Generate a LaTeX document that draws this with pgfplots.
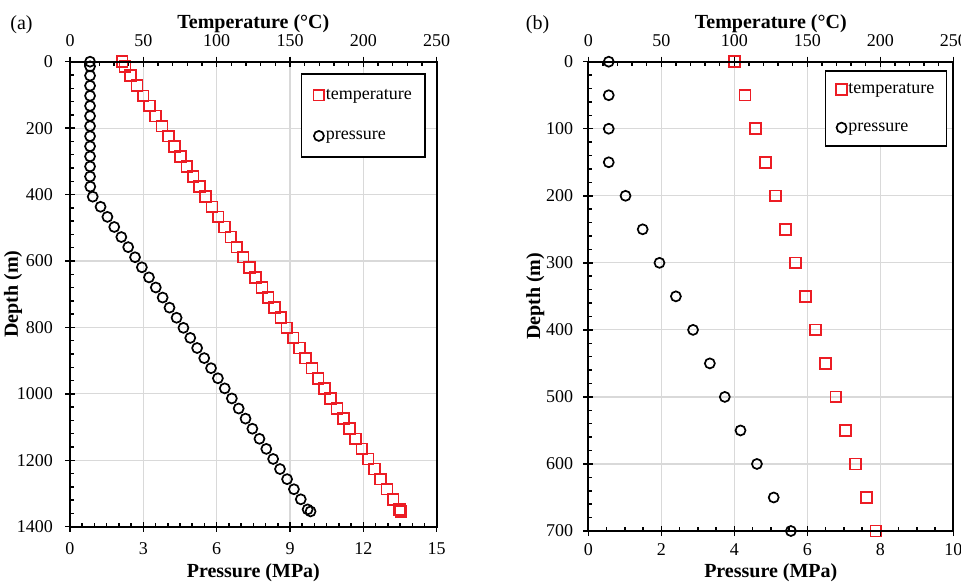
\documentclass[border=0pt]{standalone}
\usepackage{fontspec}
\setmainfont{Liberation Serif}
\usepackage{pgfplots}
\pgfplotsset{compat=1.18}
\definecolor{gridgray}{RGB}{217,217,217}
\definecolor{tred}{RGB}{236,28,36}

\pgfplotstableread{
depth pres temp
0      0.82 35.5
14     0.82 37.5
42     0.82 41.4
72.4   0.82 45.7
102.7  0.82 49.9
133.1  0.82 54.2
163.5  0.82 58.4
193.9  0.82 62.7
224.2  0.82 67.0
254.6  0.82 71.2
285.0  0.82 75.5
315.3  0.82 79.7
345.7  0.82 84.0
376.1  0.83 88.3
406.4  0.93 92.5
436.8  1.25 96.8
467.2  1.53 101.0
497.6  1.81 105.3
527.9  2.10 109.6
558.3  2.38 113.8
588.7  2.66 118.1
619.0  2.94 122.3
649.4  3.23 126.6
679.8  3.51 130.9
710.1  3.79 135.1
740.5  4.07 139.4
770.9  4.36 143.7
801.3  4.64 147.9
831.6  4.92 152.2
862.0  5.20 156.4
892.4  5.49 160.7
922.7  5.77 165.0
953.1  6.05 169.2
983.5  6.33 173.5
1013.8 6.62 177.7
1044.2 6.90 182.0
1074.6 7.18 186.3
1105.0 7.46 190.5
1135.3 7.75 194.8
1165.7 8.03 199.0
1196.1 8.31 203.3
1226.4 8.59 207.6
1256.8 8.88 211.8
1287.2 9.16 216.1
1317.5 9.44 220.3
1347.9 9.72 224.6
1354   9.84 225.5
}\dataA

\pgfplotstableread{
depth pres temp
0    0.56 100.0
50   0.56 107.3
100  0.56 114.4
150  0.56 121.4
200  1.02 128.1
250  1.49 135.2
300  1.95 142.0
350  2.40 148.9
400  2.87 155.7
450  3.33 162.6
500  3.74 169.6
550  4.17 176.3
600  4.62 183.1
650  5.08 190.4
700  5.55 197.0
}\dataB

\tikzset{lab/.style={font=\fontsize{20}{22}\selectfont\bfseries}}
\pgfplotsset{
  base/.style={scale only axis, clip=false,
    /pgf/number format/assume math mode=true,
    /pgf/number format/1000 sep={},
    tick label style={font=\fontsize{18}{20}\selectfont, inner sep=0pt},
    axis line style={line width=1.8pt, black},
    tick style={line width=1.5pt, black},
    y dir=reverse},
  presmark/.style={only marks, mark=o, mark size=5pt, black, mark options={line width=1.7pt, black}},
  tempmark/.style={only marks, mark=square, mark size=5.4pt, tred, mark options={line width=1.7pt, tred}},
  myleg/.style={legend cell align=left,
    legend image code/.code={\draw[##1] plot coordinates {(5.8pt,0pt)};},
    legend style={draw=black, line width=1.6pt, font=\fontsize{18}{20}\selectfont,
      nodes={inner sep=1.5pt, text height=12pt, text depth=4pt}}},
}

\begin{document}
\begin{tikzpicture}
\path[use as bounding box] (0pt,0pt) rectangle (961pt,583pt);
\clip (0pt,0pt) rectangle (961pt,583pt);

% ================= Panel (a) =================
\begin{axis}[base, at={(70pt,56.3pt)}, anchor=south west, width=366.7pt, height=465pt,
  xmin=0, xmax=15, ymin=0, ymax=1400,
  xtick={0,3,...,15}, ytick={0,200,...,1400},
  minor x tick num=5, minor y tick num=4,
  axis x line*=bottom, axis y line*=left, tick align=inside,
  major tick length=5pt, minor tick length=4pt,
  grid=major, major grid style={gridgray, line width=1.2pt},
  xticklabel style={anchor=base, yshift=-27.3pt},
  yticklabel style={anchor=east, xshift=-17pt},
  xlabel={Pressure (MPa)}, ylabel={Depth (m)},
  xlabel style={lab, at={(axis description cs:0.5,-0.1097)}, anchor=base},
  ylabel style={lab, at={(axis description cs:-0.155,0.5)}, anchor=center}]
\addplot[presmark] table[x=pres, y=depth] {\dataA};
\end{axis}

\begin{axis}[base, myleg, at={(70pt,56.3pt)}, anchor=south west, width=366.7pt, height=465pt,
  xmin=0, xmax=250, ymin=0, ymax=1400,
  xtick={0,50,...,250}, minor x tick num=4,
  axis x line*=top, axis y line=none, tick align=inside,
  major tick length=5pt, minor tick length=4pt,
  xticklabel style={anchor=base, yshift=15pt},
  xlabel={Temperature (°C)},
  xlabel style={lab, at={(axis description cs:0.5,1.0718)}, anchor=base},
  legend style={at={(0.971,0.975)}, anchor=north east, inner xsep=12pt, inner ysep=11.6pt, row sep=21.7pt}]
\addplot[tempmark] table[x=temp, y=depth] {\dataA};
\addlegendentry{temperature}
\addlegendimage{presmark}
\addlegendentry{pressure}
\end{axis}

\begin{axis}[base, at={(70pt,56.3pt)}, anchor=south west, width=366.7pt, height=465pt,
  xmin=0, xmax=15, ymin=0, ymax=1400,
  xtick={0,3,...,15}, ytick={0,200,...,1400}, xticklabels={}, yticklabels={},
  minor tick num=0, tick align=outside, major tick length=5pt,
  xtick pos=both, ytick pos=left]
\end{axis}

% ================= Panel (b) =================
\begin{axis}[base, at={(588.3pt,52pt)}, anchor=south west, width=365pt, height=469.3pt,
  xmin=0, xmax=10, ymin=0, ymax=700,
  xtick={0,2,...,10}, ytick={0,100,...,700},
  minor x tick num=3, minor y tick num=4,
  axis x line*=bottom, axis y line*=left, tick align=inside,
  major tick length=5pt, minor tick length=4pt,
  grid=major, major grid style={gridgray, line width=1.2pt},
  xticklabel style={anchor=base, yshift=-24pt},
  yticklabel style={anchor=east, xshift=-15pt},
  xlabel={Pressure (MPa)}, ylabel={Depth (m)},
  xlabel style={lab, at={(axis description cs:0.5,-0.100)}, anchor=base},
  ylabel style={lab, at={(axis description cs:-0.145,0.5)}, anchor=center}]
\addplot[presmark] table[x=pres, y=depth] {\dataB};
\end{axis}

\begin{axis}[base, myleg, at={(588.3pt,52pt)}, anchor=south west, width=365pt, height=469.3pt,
  xmin=0, xmax=250, ymin=0, ymax=700,
  xtick={0,50,...,250}, minor x tick num=4,
  axis x line*=top, axis y line=none, tick align=inside,
  major tick length=5pt, minor tick length=4pt,
  xticklabel style={anchor=base, yshift=15pt},
  xlabel={Temperature (°C)},
  xlabel style={lab, at={(axis description cs:0.5,1.0712)}, anchor=base},
  legend style={at={(0.9836,0.982)}, anchor=north east, inner xsep=10.6pt, inner ysep=8.8pt, row sep=19.4pt}]
\addplot[tempmark] table[x=temp, y=depth] {\dataB};
\addlegendentry{temperature}
\addlegendimage{presmark}
\addlegendentry{pressure}
\end{axis}

\begin{axis}[base, at={(588.3pt,52pt)}, anchor=south west, width=365pt, height=469.3pt,
  xmin=0, xmax=10, ymin=0, ymax=700,
  xtick={0,2,...,10}, ytick={0,100,...,700}, xticklabels={}, yticklabels={},
  minor tick num=0, tick align=outside, major tick length=5pt,
  xtick pos=both, ytick pos=left]
\end{axis}

\node[font=\fontsize{20}{22}\selectfont] at (21.5pt,558pt) {(a)};
\node[font=\fontsize{20}{22}\selectfont] at (537.5pt,558pt) {(b)};
\end{tikzpicture}
\end{document}
